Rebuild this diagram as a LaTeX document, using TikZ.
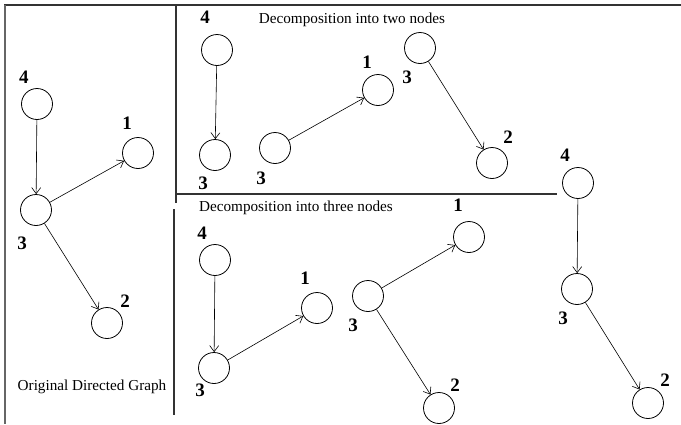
\documentclass[tikz,border=0pt]{standalone}
\usepackage{fontspec}
\setmainfont{Liberation Serif}
\usetikzlibrary{arrows.meta}
\begin{document}
\begin{tikzpicture}[x=1pt,y=-1pt,
  vert/.style={circle,draw,line width=0.8pt,minimum size=31pt,inner sep=0pt},
  lbl/.style={font=\fontsize{19}{21}\selectfont\bfseries,inner sep=0pt},
  txt/.style={font=\fontsize{15.2}{17}\selectfont,inner sep=0pt},
  edge/.style={line width=0.6pt,-{Straight Barb[length=6pt,width=9pt,line width=0.6pt]}},
  frame/.style={line width=1.3pt,draw=black!80}]
\clip (0,0) rectangle (681,424);
\fill[white] (0,0) rectangle (681,424);
% frame
\coordinate (tl) at (4,5); \coordinate (tr) at (681,5);
\coordinate (bl) at (5,424); \coordinate (lt) at (5,5);
\coordinate (s1) at (176,5); \coordinate (s2) at (176,203);
\coordinate (s3) at (174,209); \coordinate (s4) at (174,415);
\coordinate (h1) at (176,194); \coordinate (h2) at (557,194);
\draw[frame] (tl) -- (tr);
\draw[frame,draw=black!60,line width=1.8pt] (lt) -- (bl);
\draw[frame] (s1) -- (s2);
\draw[frame] (s3) -- (s4);
\draw[frame] (h1) -- (h2);
% left panel
\node[vert] (a4) at (37,104) {}; \node[lbl] (la4) at (24,77) {4};
\node[vert] (a1) at (138,153) {}; \node[lbl] (la1) at (127,123) {1};
\node[vert] (a3) at (36,210) {}; \node[lbl] (la3) at (22,243) {3};
\node[vert] (a2) at (107,323) {}; \node[lbl] (la2) at (125,301) {2};
\node[txt] (cap) at (92,387) {Original Directed Graph};
\draw[edge] (a4) -- (a3);
\draw[edge] (a3) -- (a1);
\draw[edge] (a3) -- (a2);
% two nodes
\node[txt] (t2) at (352,20) {Decomposition into two nodes};
\node[vert] (b4) at (217,50) {}; \node[lbl] (lb4) at (205,17) {4};
\node[vert] (b3) at (215,155) {}; \node[lbl] (lb3) at (203,183) {3};
\node[vert] (c3) at (275,148) {}; \node[lbl] (lc3) at (261,178) {3};
\node[vert] (c1) at (378,90) {}; \node[lbl] (lc1) at (367,62) {1};
\node[vert] (d3) at (420,48) {}; \node[lbl] (ld3) at (407,77) {3};
\node[vert] (d2) at (492,163) {}; \node[lbl] (ld2) at (508,137) {2};
\draw[edge] (b4) -- (b3);
\draw[edge] (c3) -- (c1);
\draw[edge] (d3) -- (d2);
% right column
\node[vert] (e4) at (578,183) {}; \node[lbl] (le4) at (565,155) {4};
\node[vert] (e3) at (577,289) {}; \node[lbl] (le3) at (563,318) {3};
\node[vert] (e2) at (648,403) {}; \node[lbl] (le2) at (665,380) {2};
\draw[edge] (e4) -- (e3);
\draw[edge] (e3) -- (e2);
% three nodes
\node[txt] (t3) at (296,208) {Decomposition into three nodes};
\node[vert] (f4) at (215,260) {}; \node[lbl] (lf4) at (202,233) {4};
\node[vert] (f3) at (214,368) {}; \node[lbl] (lf3) at (200,390) {3};
\node[vert] (f1) at (317,308) {}; \node[lbl] (lf1) at (305,278) {1};
\node[vert] (g3) at (368,296) {}; \node[lbl] (lg3) at (353,325) {3};
\node[vert] (g1) at (469,237) {}; \node[lbl] (lg1) at (458,205) {1};
\node[vert] (g2) at (439,408) {}; \node[lbl] (lg2) at (455,385) {2};
\draw[edge] (f4) -- (f3);
\draw[edge] (f3) -- (f1);
\draw[edge] (g3) -- (g1);
\draw[edge] (g3) -- (g2);
\end{tikzpicture}
\end{document}
